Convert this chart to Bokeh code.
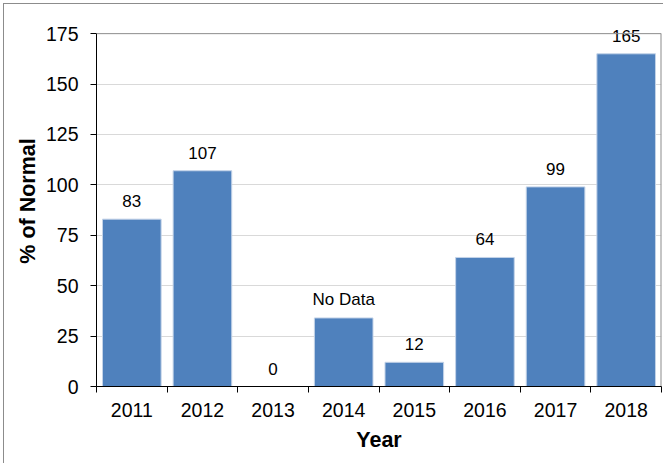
from bokeh.plotting import figure
from bokeh.models import ColumnDataSource, FixedTicker, Range1d, Span
from bokeh.core.properties import value
from bokeh.embed import file_html
from bokeh.resources import INLINE

years = ["2011", "2012", "2013", "2014", "2015", "2016", "2017", "2018"]
pct_normal = [83, 107, 0, 34, 12, 64, 99, 165]
bar_labels = ["83", "107", "0", "No Data", "12", "64", "99", "165"]
y_ticks = [0, 25, 50, 75, 100, 125, 150, 175]

FONT = "Liberation Sans"
xs = list(range(len(years)))
y_max = y_ticks[-1]
x_lo, x_hi = -0.5, len(years) - 0.5

src = ColumnDataSource(dict(x=xs, top=pct_normal, lab=bar_labels))

# extra headroom above the axis maximum so the tallest label is not clipped
p = figure(width=660, height=460, output_backend="svg", toolbar_location=None,
           x_range=Range1d(x_lo, x_hi), y_range=Range1d(0, y_max + 9),
           min_border_left=92, min_border_right=3, min_border_top=11, min_border_bottom=78)
p.styles = {"margin-left": "3px", "margin-top": "3px",
            "border-top": "1px solid #8c8c8c", "border-left": "1px solid #8c8c8c"}
p.background_fill_color = "white"
p.border_fill_color = "white"
p.outline_line_color = None

p.vbar(x="x", top="top", width=0.83, source=src, fill_color="#4F81BD",
       line_color="#c3d3e8", line_width=1)
p.text(x="x", y="top", text="lab", source=src, text_align="center",
       text_baseline="alphabetic", y_offset=-18, text_font=value(FONT),
       text_font_size="17px", text_color="black")

p.xgrid.visible = False
p.ygrid.grid_line_color = "#d9d9d9"
p.ygrid.ticker = FixedTicker(ticks=y_ticks[:-1])

# plot-area border (top and right), stopping at the axis maximum
p.add_layout(Span(location=y_max, dimension="width", line_color="#8c8c8c", line_width=1))
p.segment(x0=[x_hi], y0=[0], x1=[x_hi], y1=[y_max], line_color="#8c8c8c", line_width=2)

xa = p.xaxis[0]
xa.ticker = FixedTicker(ticks=xs, minor_ticks=[i - 0.5 for i in range(len(years) + 1)])
xa.major_label_overrides = {i: y for i, y in enumerate(years)}
xa.major_tick_in = 0
xa.major_tick_out = 0
xa.minor_tick_in = 0
xa.minor_tick_out = 6
xa.minor_tick_line_color = "black"
xa.major_label_standoff = 10
xa.axis_label = "Year"
xa.axis_label_standoff = 8

ya = p.yaxis[0]
ya.ticker = FixedTicker(ticks=y_ticks)
ya.bounds = (0, y_max)
ya.major_tick_in = 0
ya.major_tick_out = 6
ya.minor_tick_line_color = None
ya.major_label_standoff = 12
ya.axis_label = "% of Normal"
ya.axis_label_standoff = 3

for ax in (xa, ya):
    ax.axis_line_color = "black"
    ax.major_tick_line_color = "black"
    ax.major_label_text_font = FONT
    ax.major_label_text_font_size = "19.5px"
    ax.major_label_text_color = "black"
    ax.axis_label_text_font = FONT
    ax.axis_label_text_font_size = "21.5px"
    ax.axis_label_text_font_style = "bold"
    ax.axis_label_text_color = "black"

open("out.html", "w").write(file_html(p, INLINE))
